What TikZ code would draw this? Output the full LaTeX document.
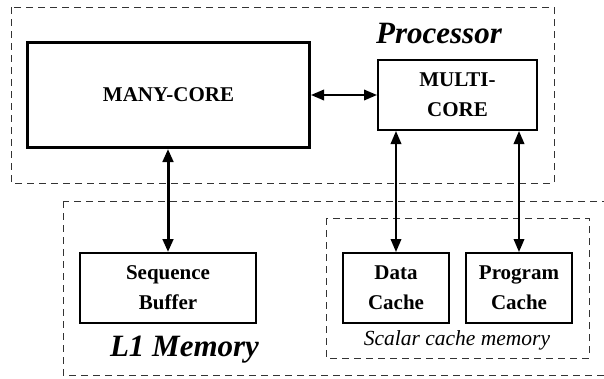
\documentclass[tikz,border=0pt]{standalone}
\usepackage{fontspec}
\setmainfont{Liberation Serif}
\usetikzlibrary{arrows.meta}
\begin{document}
\begin{tikzpicture}[x=1pt,y=-1pt,
  box/.style={draw=black, line width=2pt, inner sep=0pt, align=center,
    font=\fontsize{21}{30}\selectfont\bfseries},
  region/.style={draw=black!80, line width=0.9pt, dash pattern=on 7pt off 5pt},
  conn/.style={line width=2pt, {Triangle[length=13pt,width=10.5pt]}-{Triangle[length=13pt,width=10.5pt]}},
  title/.style={inner sep=0pt, anchor=base, font=\fontsize{31}{34}\selectfont\bfseries\itshape},
  sublabel/.style={inner sep=0pt, anchor=base, font=\fontsize{21.5}{24}\selectfont\itshape}
]
\useasboundingbox (0,0) rectangle (604,378);
% regions
\draw[region] (11,7) rectangle (554,183);
\draw[region] (63,201) rectangle (612,375);
\draw[region] (326,218) rectangle (589,358);
% labels
\node[title] (proc) at (439,43) {Processor};
\node[title] (l1) at (184.5,356) {L1 Memory};
\node[sublabel] (scl) at (457,345) {Scalar cache memory};
% boxes
\node[box, line width=3pt, minimum width=282pt, minimum height=105pt] (many) at (168.5,95) {MANY-CORE};
\node[box, minimum width=159pt, minimum height=70pt] (multi) at (457.5,95) {MULTI-\\CORE};
\node[box, minimum width=176pt, minimum height=70pt] (seq) at (168,288) {Sequence\\Buffer};
\node[box, minimum width=106pt, minimum height=70pt] (dc) at (396,288) {Data\\Cache};
\node[box, minimum width=106pt, minimum height=70pt] (pc) at (519,288) {Program\\Cache};
% connectors
\draw[conn] (many) -- (multi);
\draw[conn, line width=3pt] (seq.north) -- (seq.north |- many.south);
\draw[conn] (dc.north) -- (dc.north |- multi.south);
\draw[conn] (pc.north) -- (pc.north |- multi.south);
\end{tikzpicture}
\end{document}
